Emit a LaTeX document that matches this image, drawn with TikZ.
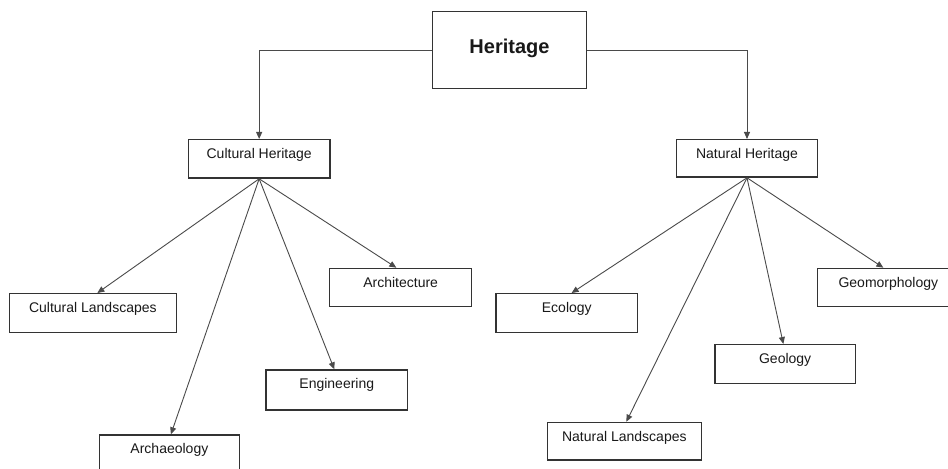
\documentclass[tikz,border=0pt]{standalone}
\usepackage{fontspec}
\setmainfont{Liberation Sans}
\usetikzlibrary{arrows.meta}
\definecolor{boxline}{HTML}{333333}
\definecolor{conn}{HTML}{4A4A4A}
\tikzset{
  box/.style={draw=boxline, line width=1.3bp, anchor=north west, inner xsep=0pt, inner ysep=0pt,
    font=\fontsize{14bp}{16bp}\selectfont, text=black!90, text height=19bp, align=center},
  link/.style={draw=conn, line width=0.9bp, -{Triangle[length=7bp,width=6bp]}}
}
\begin{document}
\begin{tikzpicture}[x=1bp,y=-1bp]
\useasboundingbox (0,0) rectangle (948,469);
\clip (0,0) rectangle (948,469);
\fill[white] (0,0) rectangle (948,469);

\node[box, minimum width=154.3bp, text height=42.2bp, text depth=34.5bp,
      font=\fontsize{20bp}{22bp}\selectfont\bfseries] (H) at (431.7,11) {Heritage};

\node[box, minimum width=141.6bp, text depth=19.5bp] (CH) at (187.7,139) {Cultural Heritage};
\node[box, minimum width=141.3bp, text depth=18.5bp] (NH) at (675.7,139) {Natural Heritage};

\node[box, minimum width=167bp, text depth=19.7bp] (CL) at (8.7,293) {Cultural Landscapes};
\node[box, minimum width=142bp, text depth=19bp] (AR) at (329,267.7) {Architecture};
\node[box, minimum width=141.7bp, text depth=21bp] (EN) at (265.3,369.3) {Engineering};
\node[box, minimum width=140.5bp, text depth=30bp] (AC) at (98.5,434.3) {Archaeology};

\node[box, minimum width=141.7bp, text depth=19.7bp] (EC) at (495.3,293) {Ecology};
\node[box, minimum width=154bp, text height=19.3bp, text depth=18.3bp] (NL) at (546.7,421.7) {Natural Landscapes};
\node[box, minimum width=140.4bp, text height=19.3bp, text depth=19.7bp] (GE) at (714.3,344) {Geology};
\node[box, minimum width=142bp, text depth=19bp] (GM) at (816.7,267.7) {Geomorphology};

\draw[link] (H.west) -| (CH.north);
\draw[link] (H.east) -| (NH.north);

\draw[link] (CH.south) -- ([xshift=4.5bp]CL.north);
\draw[link] (CH.south) -- ([xshift=1.5bp]AC.north);
\draw[link] (CH.south) -- ([xshift=-2.5bp]EN.north);
\draw[link] (CH.south) -- ([xshift=-4.3bp]AR.north);

\draw[link] (NH.south) -- ([xshift=4.8bp]EC.north);
\draw[link] (NH.south) -- ([xshift=2bp]NL.north);
\draw[link] (NH.south) -- ([xshift=-1.8bp]GE.north);
\draw[link] (NH.south) -- ([xshift=-5bp]GM.north);
\end{tikzpicture}
\end{document}
